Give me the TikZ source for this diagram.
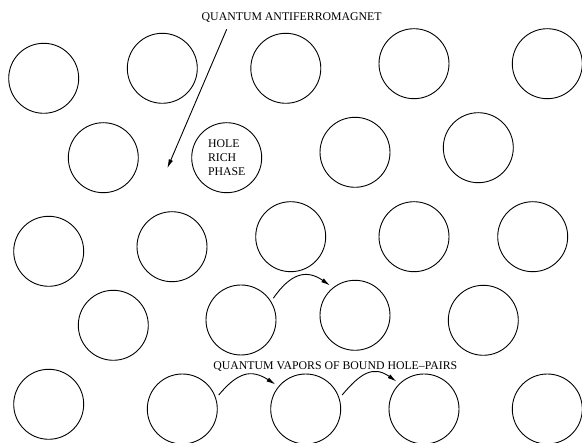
\documentclass[tikz,border=0pt]{standalone}
\usepackage{fontspec}
\setmainfont{Liberation Serif}
\usetikzlibrary{arrows.meta}
\begin{document}
\begin{tikzpicture}[x=1pt,y=-1pt,
  dot/.style={circle,draw,line width=0.9pt,minimum size=70pt,inner sep=0pt,outer sep=4pt},
  lbl/.style={font=\fontsize{11.8}{14.4}\selectfont,inner sep=0pt},
  hop/.style={-{Latex[length=9pt,width=4.5pt]},line width=0.9pt}]
\useasboundingbox[fill=white] (0,0) rectangle (582,443);
% row 1
\node[dot] (c11) at (43.7,78.3) {};
\node[dot] (c12) at (162.3,68.3) {};
\node[dot] (c13) at (285.8,68.3) {};
\node[dot] (c14) at (414,63.7) {};
\node[dot] (c15) at (547.3,63.7) {};
% row 2
\node[dot] (c21) at (103.3,157.7) {};
\node[dot,lbl,align=left,inner sep=0pt,minimum size=70pt] (c22) at (226.7,157.7) {HOLE\\RICH\\PHASE};
\node[dot] (c23) at (355,152.3) {};
\node[dot] (c24) at (478.3,147.7) {};
% row 3
\node[dot] (c31) at (48.7,251.3) {};
\node[dot] (c32) at (172,246.7) {};
\node[dot] (c33) at (290.7,236.7) {};
\node[dot] (c34) at (414,236.7) {};
\node[dot] (c35) at (532.7,236.7) {};
% row 4
\node[dot] (c41) at (113.3,325.3) {};
\node[dot] (c42) at (241,320) {};
\node[dot] (c43) at (355,315.3) {};
\node[dot] (c44) at (483.3,320.3) {};
% row 5
\node[dot] (c51) at (48.7,404.3) {};
\node[dot] (c52) at (182.3,409) {};
\node[dot] (c53) at (305.7,409) {};
\node[dot] (c54) at (424,409) {};
\node[dot] (c55) at (547.3,409) {};
% labels
\node[lbl,anchor=base] (qaf) at (291.7,20.7) {QUANTUM ANTIFERROMAGNET};
\node[lbl,anchor=base] (qvb) at (335.3,370) {QUANTUM VAPORS OF BOUND HOLE--PAIRS};
\coordinate (qafstart) at (226.7,29.3);
\coordinate (qaftip) at (167.3,168.3);
\draw[hop] (qafstart) -- (qaftip);
% hops
\draw[hop] (c42.34) to[out=55,in=145,looseness=1.3] (c43.130);
\draw[hop] (c52.21) to[out=50,in=147,looseness=1.3] (c53.141);
\draw[hop] (c53.21) to[out=50,in=145,looseness=1.3] (c54.135);
\end{tikzpicture}
\end{document}
